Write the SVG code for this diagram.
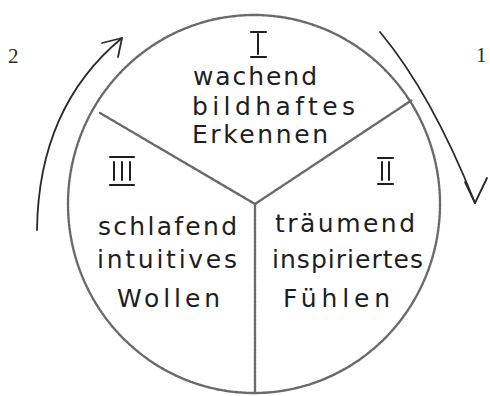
<svg xmlns="http://www.w3.org/2000/svg" width="490" height="396" viewBox="0 0 490 396">
<style>
.pencil{fill:none;stroke:#6a6a6a;stroke-width:2.4;stroke-dasharray:2.5 1.2;stroke-linecap:round}
.arrow{fill:none;stroke:#2a2a2a;stroke-width:1.8;stroke-linecap:round;stroke-linejoin:round}
.hand{font-family:"DejaVu Sans","Liberation Sans",sans-serif;font-size:25px;fill:#1e1e1e}
.num{font-family:"Liberation Serif",serif;font-size:21px;fill:#2a2a2a}
.bar{stroke:#1e1e1e;stroke-width:2.2;stroke-linecap:round}
.roman{fill:none;stroke:#1e1e1e;stroke-width:2;stroke-linecap:round}
</style>
<rect width="490" height="396" fill="#ffffff"/>
<g id="connectors">
  <ellipse class="pencil" cx="254" cy="204" rx="186" ry="189"/>
  <path class="pencil" d="M255,204 L100,113"/>
  <path class="pencil" d="M255,204 L412,100"/>
  <path class="pencil" d="M255,204 L255,392"/>
  <path class="arrow" d="M37,230 C38,150 65,85 122,38"/>
  <path class="arrow" d="M102,43 L122,38 L118,57"/>
  <path class="arrow" d="M380,32 C405,62 440,115 475,203"/>
  <path class="arrow" d="M465,182 L475,203 L487,178"/>
</g>
<g id="label-2"><text class="num" x="8" y="63">2</text></g>
<g id="label-1"><text class="num" x="476" y="62">1</text></g>
<g id="sector-I">
  <line class="bar" x1="251" y1="32" x2="266" y2="32"/>
  <line class="roman" x1="258" y1="34" x2="258" y2="54"/>
  <line class="bar" x1="251" y1="57" x2="266" y2="57"/>
  <text class="hand" x="193" y="85" textLength="124" lengthAdjust="spacing">wachend</text>
  <text class="hand" x="192" y="115" textLength="163" lengthAdjust="spacing">bildhaftes</text>
  <text class="hand" x="192" y="143" textLength="136" lengthAdjust="spacing">Erkennen</text>
</g>
<g id="sector-II">
  <line class="bar" x1="378" y1="158" x2="393" y2="158"/>
  <line class="roman" x1="382" y1="162" x2="382" y2="180"/>
  <line class="roman" x1="389" y1="162" x2="389" y2="180"/>
  <line class="bar" x1="378" y1="184" x2="393" y2="184"/>
  <text class="hand" x="275" y="232" textLength="140" lengthAdjust="spacing">träumend</text>
  <text class="hand" x="272" y="268" textLength="151" lengthAdjust="spacing">inspiriertes</text>
  <text class="hand" x="283" y="307" textLength="107" lengthAdjust="spacing">Fühlen</text>
</g>
<g id="sector-III">
  <line class="bar" x1="110" y1="157" x2="134" y2="157"/>
  <line class="roman" x1="114" y1="162" x2="114" y2="180"/>
  <line class="roman" x1="122" y1="162" x2="122" y2="180"/>
  <line class="roman" x1="130" y1="162" x2="130" y2="180"/>
  <line class="bar" x1="110" y1="185" x2="134" y2="185"/>
  <text class="hand" x="98" y="235" textLength="139" lengthAdjust="spacing">schlafend</text>
  <text class="hand" x="97" y="268" textLength="140" lengthAdjust="spacing">intuitives</text>
  <text class="hand" x="117" y="307" textLength="103" lengthAdjust="spacing">Wollen</text>
</g>
</svg>
